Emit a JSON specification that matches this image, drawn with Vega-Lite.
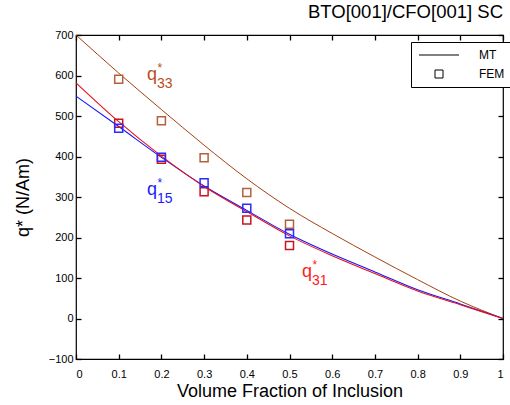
{
  "$schema": "https://vega.github.io/schema/vega-lite/v6.json",
  "width": 427,
  "height": 324,
  "autosize": "none",
  "padding": {"left": 76, "top": 35, "right": 7, "bottom": 46},
  "background": "white",
  "title": {"text": "BTO[001]/CFO[001] SC", "anchor": "end", "frame": "group", "fontSize": 18.5, "font": "Liberation Sans", "fontWeight": "normal", "color": "black", "offset": 8},
  "config": {
    "view": {"stroke": "black", "strokeWidth": 1.2},
    "axis": {
      "domain": false, "tickColor": "black", "tickWidth": 1.3, "tickSize": 5,
      "labelFont": "Liberation Sans", "labelFontSize": 11, "labelColor": "black",
      "titleFont": "Liberation Sans", "titleFontSize": 18, "titleFontWeight": "normal", "titleColor": "black",
      "grid": false
    }
  },
  "datasets": {
    "mt": [
      {"series": "q33", "vf": 0.0, "q": 700}, {"series": "q33", "vf": 0.1, "q": 606}, {"series": "q33", "vf": 0.2, "q": 516},
      {"series": "q33", "vf": 0.3, "q": 428}, {"series": "q33", "vf": 0.4, "q": 345}, {"series": "q33", "vf": 0.5, "q": 272},
      {"series": "q33", "vf": 0.6, "q": 210}, {"series": "q33", "vf": 0.7, "q": 152}, {"series": "q33", "vf": 0.8, "q": 96},
      {"series": "q33", "vf": 0.9, "q": 43}, {"series": "q33", "vf": 1.0, "q": 0},
      {"series": "q15", "vf": 0.0, "q": 549}, {"series": "q15", "vf": 0.1, "q": 474}, {"series": "q15", "vf": 0.2, "q": 398},
      {"series": "q15", "vf": 0.3, "q": 327}, {"series": "q15", "vf": 0.4, "q": 267}, {"series": "q15", "vf": 0.5, "q": 208},
      {"series": "q15", "vf": 0.6, "q": 159}, {"series": "q15", "vf": 0.7, "q": 115}, {"series": "q15", "vf": 0.8, "q": 71},
      {"series": "q15", "vf": 0.9, "q": 36}, {"series": "q15", "vf": 1.0, "q": 0},
      {"series": "q31", "vf": 0.0, "q": 582}, {"series": "q31", "vf": 0.1, "q": 486}, {"series": "q31", "vf": 0.2, "q": 401},
      {"series": "q31", "vf": 0.3, "q": 326}, {"series": "q31", "vf": 0.4, "q": 264}, {"series": "q31", "vf": 0.5, "q": 204},
      {"series": "q31", "vf": 0.6, "q": 155}, {"series": "q31", "vf": 0.7, "q": 111}, {"series": "q31", "vf": 0.8, "q": 68},
      {"series": "q31", "vf": 0.9, "q": 34}, {"series": "q31", "vf": 1.0, "q": 0}
    ],
    "fem": [
      {"series": "q33", "method": "FEM", "vf": 0.1, "q": 591}, {"series": "q33", "method": "FEM", "vf": 0.2, "q": 488},
      {"series": "q33", "method": "FEM", "vf": 0.3, "q": 397}, {"series": "q33", "method": "FEM", "vf": 0.4, "q": 311},
      {"series": "q33", "method": "FEM", "vf": 0.5, "q": 233},
      {"series": "q31", "method": "FEM", "vf": 0.1, "q": 482}, {"series": "q31", "method": "FEM", "vf": 0.2, "q": 393},
      {"series": "q31", "method": "FEM", "vf": 0.3, "q": 313}, {"series": "q31", "method": "FEM", "vf": 0.4, "q": 243},
      {"series": "q31", "method": "FEM", "vf": 0.5, "q": 180},
      {"series": "q15", "method": "FEM", "vf": 0.1, "q": 470}, {"series": "q15", "method": "FEM", "vf": 0.2, "q": 398},
      {"series": "q15", "method": "FEM", "vf": 0.3, "q": 335}, {"series": "q15", "method": "FEM", "vf": 0.4, "q": 272},
      {"series": "q15", "method": "FEM", "vf": 0.5, "q": 209}
    ],
    "lab": [
      {"series": "q33", "vf": 0.166, "q": 589, "sub": "33"},
      {"series": "q15", "vf": 0.166, "q": 305, "sub": "15"},
      {"series": "q31", "vf": 0.529, "q": 102, "sub": "31"}
    ]
  },
  "layer": [
    {
      "data": {"name": "mt"},
      "mark": {"type": "line", "interpolate": "monotone"},
      "encoding": {
        "x": {"field": "vf", "type": "quantitative", "scale": {"domain": [0, 1], "nice": false, "zero": false},
              "axis": {"orient": "bottom", "ticks": false, "values": [0, 0.1, 0.2, 0.3, 0.4, 0.5, 0.6, 0.7, 0.8, 0.9, 1], "format": "~g", "labelPadding": 9, "title": "Volume Fraction of Inclusion", "titlePadding": 3}},
        "y": {"field": "q", "type": "quantitative", "scale": {"domain": [-100, 700], "nice": false, "zero": false},
              "axis": {"orient": "left", "ticks": false, "values": [-100, 0, 100, 200, 300, 400, 500, 600, 700], "labelPadding": 3, "title": "q* (N/Am)", "titlePadding": 16}},
        "color": {"field": "series", "type": "nominal", "scale": {"domain": ["q33", "q15", "q31"], "range": ["#a3410f", "#1414ff", "#e8101a"]}, "legend": null},
        "strokeWidth": {"field": "series", "type": "nominal", "scale": {"domain": ["q33", "q15", "q31"], "range": [1, 1.1, 1.8]}, "legend": null}
      }
    },
    {
      "data": {"name": "fem"},
      "mark": {"type": "point", "filled": false, "size": 64, "strokeWidth": 1.5, "opacity": 1},
      "encoding": {
        "x": {"field": "vf", "type": "quantitative",
              "axis": {"orient": "top", "offset": -324, "values": [0, 0.1, 0.2, 0.3, 0.4, 0.5, 0.6, 0.7, 0.8, 0.9, 1], "labels": false, "title": null}},
        "y": {"field": "q", "type": "quantitative",
              "axis": {"orient": "right", "offset": -427, "values": [-100, 0, 100, 200, 300, 400, 500, 600, 700], "labels": false, "title": null}},
        "color": {"field": "series", "type": "nominal", "scale": {"domain": ["q33", "q31", "q15"], "range": ["#b5603a", "#c8141e", "#2a2aff"]}, "legend": null},
        "shape": {"field": "method", "type": "nominal", "scale": {"domain": ["MT", "FEM"], "range": ["M-5,0H5", "square"]},
                  "legend": {"title": null, "orient": "none", "legendX": 335, "legendY": 7, "strokeColor": "black", "fillColor": "white", "padding": 7,
                             "symbolStrokeColor": "black", "symbolStrokeWidth": 1, "symbolFillColor": "transparent", "symbolSize": 64,
                             "labelFont": "Liberation Sans", "labelFontSize": 12, "labelColor": "black", "rowPadding": 7,
                             "symbolOffset": 15, "labelOffset": 34, "cornerRadius": 0}}
      }
    },
    {
      "data": {"name": "lab"},
      "mark": {"type": "text", "text": "q", "fontSize": 18, "font": "Liberation Sans", "align": "left", "baseline": "alphabetic"},
      "encoding": {
        "x": {"field": "vf", "type": "quantitative",
              "axis": {"orient": "bottom", "offset": -324, "values": [0, 0.1, 0.2, 0.3, 0.4, 0.5, 0.6, 0.7, 0.8, 0.9, 1], "labels": false, "title": null}},
        "y": {"field": "q", "type": "quantitative",
              "axis": {"orient": "left", "offset": -427, "values": [-100, 0, 100, 200, 300, 400, 500, 600, 700], "labels": false, "title": null}},
        "color": {"field": "series", "type": "nominal", "scale": {"domain": ["q33", "q15", "q31"], "range": ["#b84c1c", "#1a1aff", "#ff1a1a"]}, "legend": null}
      }
    },
    {
      "data": {"name": "lab"},
      "mark": {"type": "text", "fontSize": 14, "font": "Liberation Sans", "align": "left", "baseline": "alphabetic", "dx": 10, "dy": 8},
      "encoding": {
        "x": {"field": "vf", "type": "quantitative", "axis": null},
        "y": {"field": "q", "type": "quantitative", "axis": null},
        "text": {"field": "sub", "type": "nominal"},
        "color": {"field": "series", "type": "nominal", "scale": {"domain": ["q33", "q15", "q31"], "range": ["#b84c1c", "#1a1aff", "#ff1a1a"]}, "legend": null}
      }
    },
    {
      "data": {"name": "lab"},
      "mark": {"type": "text", "text": "*", "fontSize": 12, "font": "Liberation Sans", "align": "center", "baseline": "alphabetic", "dx": 13, "dy": -8},
      "encoding": {
        "x": {"field": "vf", "type": "quantitative", "axis": null},
        "y": {"field": "q", "type": "quantitative", "axis": null},
        "color": {"field": "series", "type": "nominal", "scale": {"domain": ["q33", "q15", "q31"], "range": ["#b84c1c", "#1a1aff", "#ff1a1a"]}, "legend": null}
      }
    }
  ],
  "resolve": {"scale": {"color": "independent", "strokeWidth": "independent"}, "axis": {"x": "independent", "y": "independent"}}
}
